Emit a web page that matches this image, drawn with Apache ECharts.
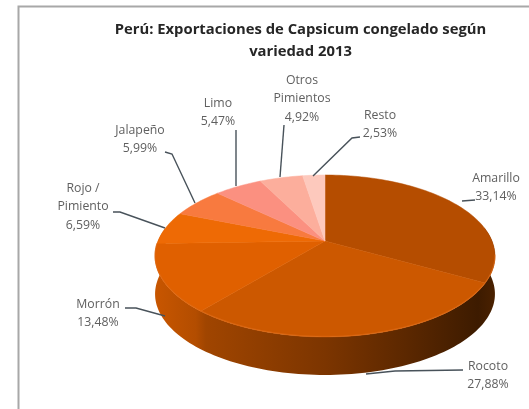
<!DOCTYPE html>
<html><head><meta charset="utf-8">
<style>html,body{margin:0;padding:0;background:#fff;overflow:hidden}#c{width:529px;height:409px;filter:blur(0.55px)}</style>
<script src="https://cdn.jsdelivr.net/npm/echarts@6/dist/echarts.min.js"></script>
</head><body><div id="c"></div>
<script>
const categories = ["Amarillo","Rocoto","Morrón","Rojo /\nPimiento","Jalapeño","Limo","Otros\nPimientos","Resto"];
const shares = [33.14,27.88,13.48,6.59,5.99,5.47,4.92,2.53];
const faceColors = ["#b54d00","#cc5800","#e06000","#ee6a05","#f87a3f","#fb9080","#fcae9c","#fdc9bd"];
const titleText = "Perú: Exportaciones de Capsicum congelado según\nvariedad 2013";

// Layout of the tilted disc (perspective projection of a circle)
const PIE = {cx:325, cy:241, bx:167, by:78.2, p:0.185, depth:38};
// Label centres and leader paths, by category order
const labelPos = [[496,178],[488,366],[98,304],[83,188],[140,130],[218,103],[302,80],[380,115]];
const leaders = [
 [[475,200],[462,201]],
 [[463,370],[395,371],[366,374]],
 [[125,308],[136,308],[165,316]],
 [[113,212],[120,212],[165,228]],
 [[165,152],[172,154],[195,203]],
 [[236,130],[236,186]],
 [[284,125],[280,177]],
 [[360,137],[352,138],[313,176]]
];

const total = shares.reduce((a,b)=>a+b,0);
function project(deg, dy){
  const a = deg*Math.PI/180, u=Math.sin(a), v=Math.cos(a), w=1+PIE.p*v;
  return [PIE.cx+PIE.bx*u/w, PIE.cy-PIE.by*v/w+(dy||0)];
}
function arc(from,to,dy){
  const pts=[], n=Math.max(2,Math.ceil(Math.abs(to-from)/1.5));
  for(let i=0;i<=n;i++) pts.push(project(from+(to-from)*i/n,dy));
  return pts;
}
const starts=[]; let acc=0;
shares.forEach(s=>{starts.push(acc/total*360); acc+=s;});

const wallFill = {type:'linear',global:true,x:155,y:0,x2:495,y2:0,colorStops:[
 {offset:0,color:'#c85600'},{offset:0.12,color:'#b34d00'},{offset:0.15,color:'#a04500'},
 {offset:0.5,color:'#7c3500'},{offset:0.75,color:'#5a2700'},{offset:0.95,color:'#3d1b00'},{offset:1,color:'#4a2100'}]};

const option = {
  animation:false,
  backgroundColor:'#fff',
  title:{text:titleText,left:295.5,top:14,textAlign:'center',
    textStyle:{fontFamily:'Open Sans',fontSize:14.8,fontWeight:'bold',color:'#262626',lineHeight:22}},
  graphic:[
    {type:'polyline',shape:{points:[[18.5,409],[18.5,6.5],[529,6.5]]},style:{stroke:'#a8a8a8',lineWidth:2,fill:null},silent:true}
  ],
  series:[
    { // side wall
      type:'custom',coordinateSystem:'none',data:[0],z:1,silent:true,
      renderItem(){
        const top=arc(80,280,0), bot=arc(80,280,PIE.depth).reverse();
        return {type:'polygon',shape:{points:top.concat(bot)},style:{fill:wallFill}};
      }
    },
    { // top faces, leaders, labels
      type:'custom',coordinateSystem:'none',z:2,silent:true,
      data:shares.map((v,i)=>({name:categories[i],value:v})),
      renderItem(params,api){
        const i=params.dataIndex, v=api.value(0);
        const s=starts[i], e=s+v/total*360;
        const pts=[[PIE.cx,PIE.cy]].concat(arc(s,e,0));
        const label=categories[i]+"\n"+v.toFixed(2).replace('.',',')+"%";
        return {type:'group',children:[
          {type:'polygon',shape:{points:pts},style:{fill:faceColors[i],stroke:faceColors[i],lineWidth:0.5}},
          {type:'polyline',z2:5,shape:{points:leaders[i]},style:{stroke:'#48525a',lineWidth:1.4,fill:null}},
          {type:'text',z2:6,x:labelPos[i][0],y:labelPos[i][1]-9,style:{text:label,align:'center',verticalAlign:'top',
            fontFamily:'Open Sans',fontSize:12.3,lineHeight:18.5,fill:'#5f5f5f'}}
        ]};
      }
    },
    { // lighter rim on the front edge of the top face
      type:'custom',coordinateSystem:'none',data:[0],z:3,silent:true,
      renderItem(){
        return {type:'polyline',shape:{points:arc(100,268,-0.5)},style:{stroke:'#de6a14',lineWidth:1.2,fill:null,opacity:0.7}};
      }
    }
  ]
};
echarts.init(document.getElementById('c'),null,{renderer:'canvas'}).setOption(option);
</script></body></html>
